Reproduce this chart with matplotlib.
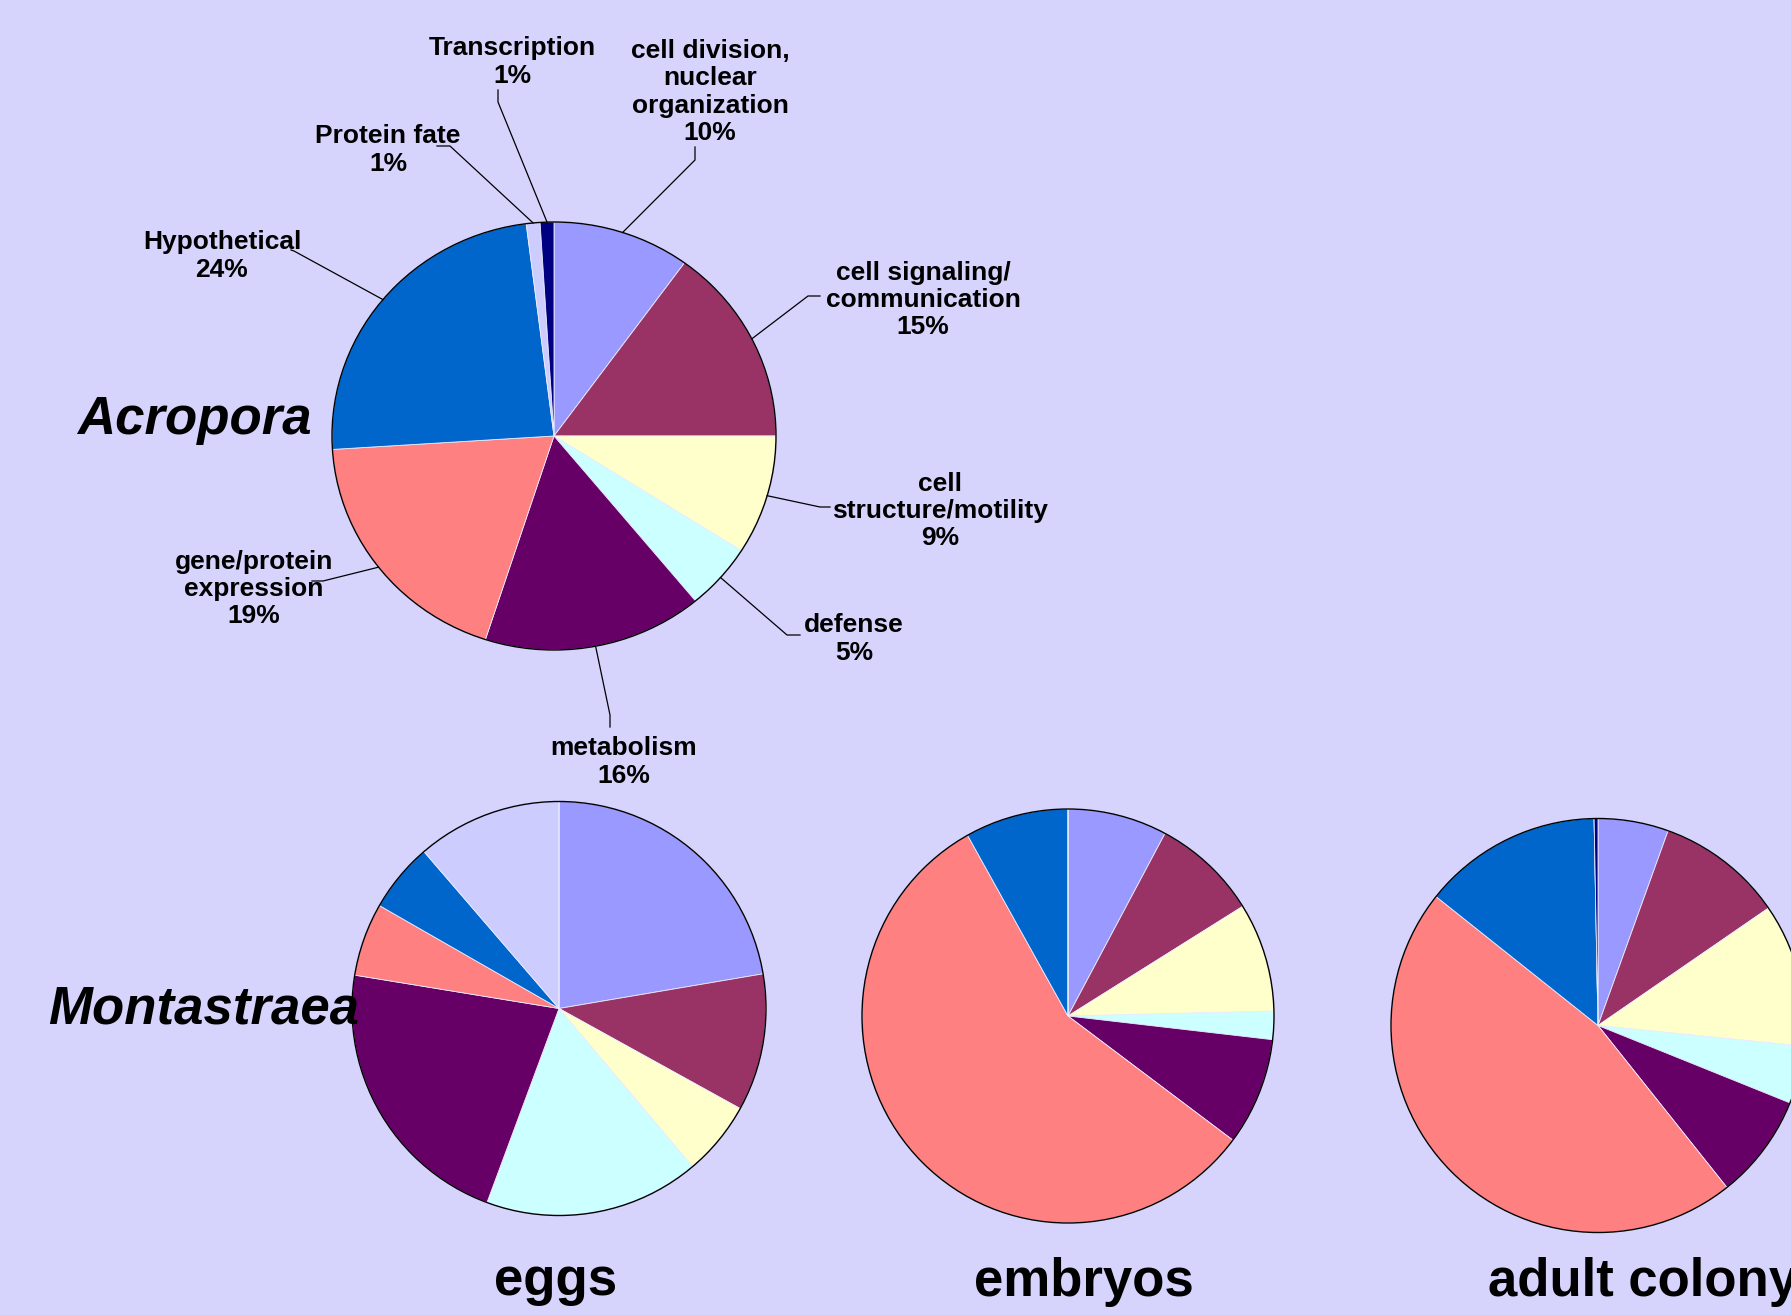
import numpy as np
import matplotlib
matplotlib.use('Agg')
import matplotlib.pyplot as plt
from matplotlib.patches import Ellipse

# Размер картинки в пикселях (dpi = 100)
W, H = 1791, 1315
BG = '#D6D4FC'

plt.rcParams['font.family'] = ['Liberation Sans', 'DejaVu Sans']

# Категории по часовой стрелке от 12 часов
categories = ['cell division,\nnuclear\norganization', 'cell signaling/\ncommunication',
              'cell\nstructure/motility', 'defense', 'metabolism',
              'gene/protein\nexpression', 'Hypothetical', 'Protein fate', 'Transcription']
colors = ['#9999FF', '#993366', '#FFFFCC', '#CCFFFF', '#660066',
          '#FF8080', '#0066CC', '#CCCCFF', '#000080']

# Проценты
acropora = [10, 15, 9, 5, 16, 19, 24, 1, 1]
eggs = [22.3, 10.7, 5.8, 16.8, 21.9, 5.7, 5.4, 11.3, 0]
embryos = [7.8, 8.3, 8.5, 2.2, 8.4, 56.6, 8.1, 0, 0]
adult = [5.5, 9.9, 11.2, 4.5, 8.2, 46.4, 14.0, 0, 0.3]

stage_names = ['eggs', 'embryos', 'adult colony']

# Раскладка: центр и радиусы пирогов (в пикселях картинки)
acr_geom = (554, 436, 222, 214)
stage_geom = [(559, 1008.5, 207, 207), (1068, 1016, 206, 207), (1598, 1025.5, 207, 207)]

# Положения подписей Acropora и изломы выносок
label_pos = [(710, 92), (923, 300), (940, 511), (854, 639), (624, 762),
             (254, 589), (222, 256), (388, 150), (512, 62)]
leader_pts = [((695, 160), (695, 147)), ((808, 296), (820, 296)), ((820, 507), (830, 507)),
              ((787, 635), (800, 635)), ((610, 715), (610, 727)), ((323, 581), (312, 581)),
              ((294, 251), (291, 250)), ((450, 146), (437, 146)), ((498, 102), (498, 90))]


def draw_pie(fig, values, cx, cy, rx, ry):
    pad = 1.05
    ax = fig.add_axes([(cx - rx * pad) / W, 1 - (cy + ry * pad) / H,
                       2 * rx * pad / W, 2 * ry * pad / H])
    wedges, _ = ax.pie(values, colors=colors, startangle=90, counterclock=False,
                       wedgeprops=dict(edgecolor='#ECECFF', linewidth=0.6))
    ax.add_patch(Ellipse((0, 0), 2, 2, fill=False, edgecolor='black', linewidth=1.0))
    ax.set_aspect('auto')
    ax.set_xlim(-pad, pad)
    ax.set_ylim(-pad, pad)
    ax.axis('off')
    return ax, wedges


fig = plt.figure(figsize=(W / 100, H / 100), dpi=100, facecolor=BG)

ax_acr, acr_wedges = draw_pie(fig, acropora, *acr_geom)
for vals, geom in zip([eggs, embryos, adult], stage_geom):
    draw_pie(fig, vals, *geom)

# Верхний слой для текста и выносок, координаты = пиксели картинки
top = fig.add_axes([0, 0, 1, 1])
top.set_xlim(0, W)
top.set_ylim(H, 0)
top.axis('off')

for w, cat, v, (lx, ly), (elbow, end) in zip(acr_wedges, categories, acropora, label_pos, leader_pts):
    a = np.deg2rad((w.theta1 + w.theta2) / 2)
    disp = ax_acr.transData.transform((np.cos(a), np.sin(a)))
    px, py = top.transData.inverted().transform(disp)
    top.plot([px, elbow[0], end[0]], [py, elbow[1], end[1]], color='black', lw=0.9)
    top.text(lx, ly, f'{cat}\n{v}%', ha='center', va='center', multialignment='center',
             fontsize=19, fontweight='bold', linespacing=1.18)

top.text(77, 434, 'Acropora', fontsize=38, fontweight='bold', fontstyle='italic',
         ha='left', va='baseline')
top.text(48, 1023, 'Montastraea', fontsize=38, fontweight='bold', fontstyle='italic',
         ha='left', va='baseline')

top.text(556, 1295, stage_names[0], fontsize=38, fontweight='bold', ha='center', va='baseline')
top.text(1084, 1296, stage_names[1], fontsize=38, fontweight='bold', ha='center', va='baseline')
top.text(1488, 1296, stage_names[2], fontsize=38, fontweight='bold', ha='left', va='baseline')

fig.savefig('out.png', dpi=100, facecolor=BG)
